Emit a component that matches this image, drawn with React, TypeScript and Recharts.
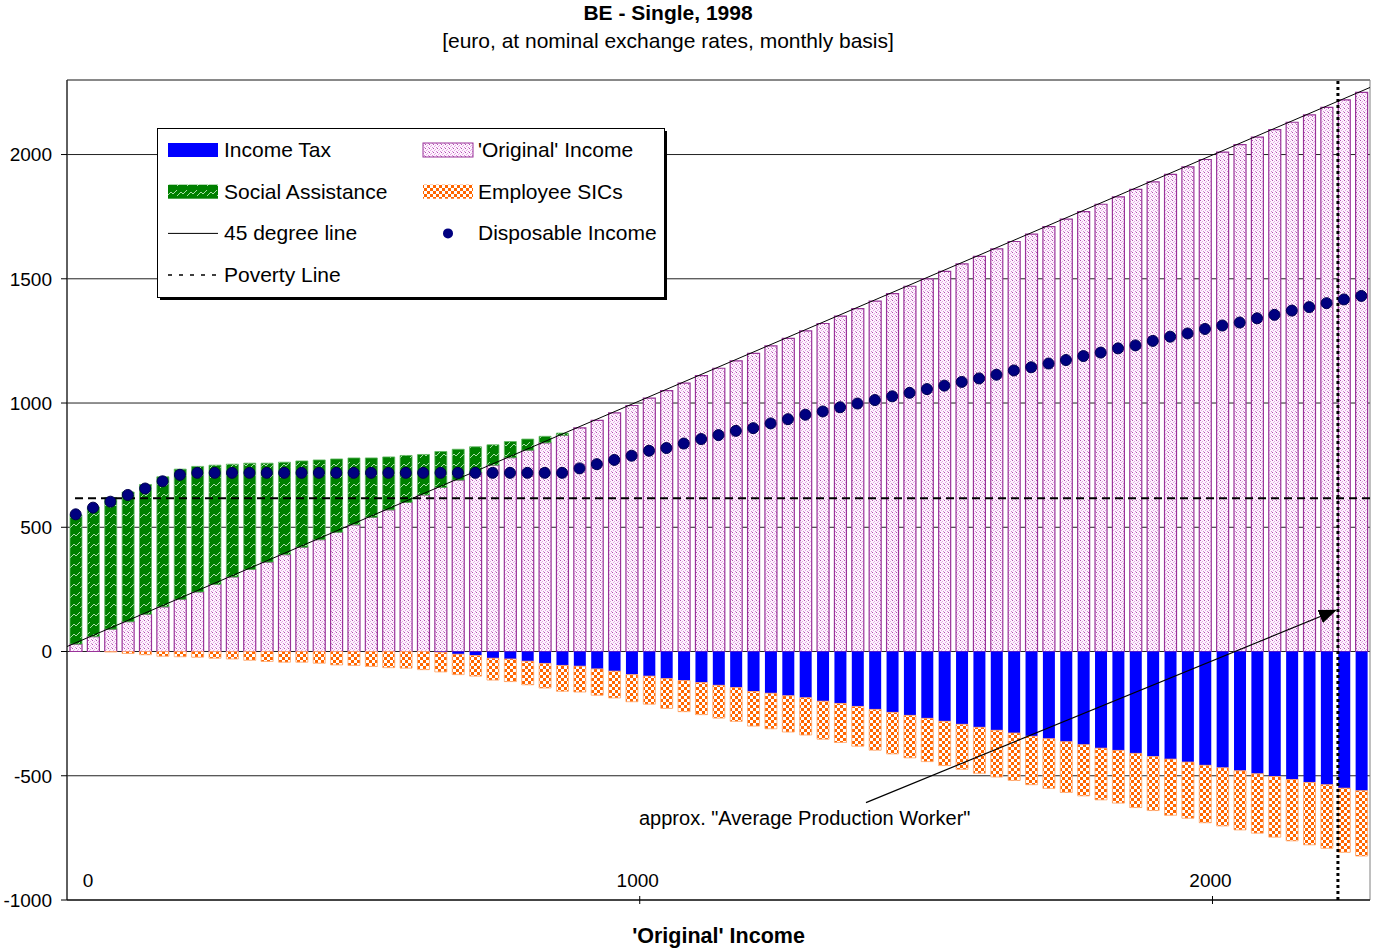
import React from "react";
import {
  ComposedChart,
  Bar,
  Line,
  XAxis,
  YAxis,
  CartesianGrid,
  ReferenceLine,
  ReferenceArea,
  ReferenceDot,
} from "recharts";

// 'Original' income per bar (euro / month)
const originalIncome = [
  30, 60, 90, 120, 150, 180, 210, 240, 270, 300, 330, 360, 390, 420, 450, 480, 510, 540, 570, 600,
  630, 660, 690, 720, 750, 780, 810, 840, 870, 900, 930, 960, 990, 1020, 1050, 1080, 1110, 1140, 1170, 1200,
  1230, 1260, 1290, 1320, 1350, 1380, 1410, 1440, 1470, 1500, 1530, 1560, 1590, 1620, 1650, 1680, 1710, 1740, 1770, 1800,
  1830, 1860, 1890, 1920, 1950, 1980, 2010, 2040, 2070, 2100, 2130, 2160, 2190, 2220, 2250,
];

const socialAssistance = [
  520, 522, 530, 522, 522, 523, 524, 505, 480, 454, 428, 398, 372, 347, 321, 295, 269, 239, 213, 189,
  163, 145, 124, 104, 82, 65, 45, 26, 9, 0, 0, 0, 0, 0, 0, 0, 0, 0, 0, 0,
  0, 0, 0, 0, 0, 0, 0, 0, 0, 0, 0, 0, 0, 0, 0, 0, 0, 0, 0, 0,
  0, 0, 0, 0, 0, 0, 0, 0, 0, 0, 0, 0, 0, 0, 0,
];

const incomeTax = [
  0, 0, 0, 0, 0, 0, 0, 0, 0, 0, 0, 0, 0, 0, 0, 0, 0, 0, 0, 0,
  0, -3, -11, -16, -27, -30, -39, -48, -56, -59, -70, -79, -93, -99, -109, -117, -125, -136, -145, -161,
  -168, -178, -186, -200, -209, -221, -233, -245, -257, -269, -281, -293, -305, -317, -328, -341, -351, -363, -375, -389,
  -398, -410, -423, -433, -445, -458, -468, -480, -492, -503, -515, -527, -536, -550, -560,
];

const employeeSics = [
  0, 0, -2, -8, -13, -19, -21, -23, -27, -30, -35, -40, -43, -43, -47, -54, -56, -60, -65, -67,
  -73, -79, -82, -83, -88, -91, -95, -99, -104, -104, -106, -108, -109, -113, -120, -125, -129, -132, -136, -139,
  -143, -146, -150, -153, -157, -160, -164, -167, -171, -174, -178, -181, -185, -188, -191, -195, -200, -204, -206, -208,
  -212, -218, -217, -226, -226, -231, -234, -238, -239, -244, -247, -251, -256, -258, -263,
];

const disposableIncome = [
  552, 579, 603, 630, 656, 685, 711, 719, 719, 719, 719, 719, 719, 719, 719, 719, 719, 719, 719, 719,
  719, 719, 719, 719, 719, 719, 719, 719, 719, 737, 754, 771, 788, 808, 819, 837, 855, 871, 888, 899,
  918, 935, 953, 966, 983, 998, 1012, 1027, 1041, 1056, 1070, 1085, 1099, 1114, 1131, 1144, 1159, 1173, 1189, 1203,
  1220, 1232, 1250, 1267, 1280, 1298, 1312, 1324, 1341, 1355, 1372, 1386, 1402, 1417, 1431,
];

const yTicks = [-1000, -500, 0, 500, 1000, 1500, 2000];
const xTicks = [0, 1000, 2000];
const xDomain = [0, 2275];
const yDomain = [-1000, 2300];
const povertyLine = 617;
const apwIncome = 2219;
const line45 = [
  { x: 0, y: 20 },
  { x: 2275, y: 2270 },
];
const arrowLine = [
  { x: 1395, y: -608 },
  { x: 2214, y: 165 },
];
const notePoint = { x: 1288, y: -668 };

const legendItems = [
  { label: "Income Tax", kind: "tax", col: 0, row: 0 },
  { label: "'Original' Income", kind: "orig", col: 1, row: 0 },
  { label: "Social Assistance", kind: "sa", col: 0, row: 1 },
  { label: "Employee SICs", kind: "sic", col: 1, row: 1 },
  { label: "45 degree line", kind: "line", col: 0, row: 2 },
  { label: "Disposable Income", kind: "dot", col: 1, row: 2 },
  { label: "Poverty Line", kind: "dash", col: 0, row: 3 },
];

const data = originalIncome.map((inc, i) => ({
  inc,
  orig: inc,
  sa: socialAssistance[i],
  tax: incomeTax[i],
  sic: employeeSics[i],
  dispo: disposableIncome[i],
}));

const FONT = "'Liberation Sans', Arial, sans-serif";

const Patterns = () => (
  <svg width={0} height={0} style={{ position: "absolute" }}>
    <defs>
      <pattern id="origPat" width={4} height={4} patternUnits="userSpaceOnUse">
        <rect width={4} height={4} fill="#fdf3fd" />
        <rect x={0} y={0} width={1} height={1} fill="#b04db0" />
        <rect x={2} y={1} width={1} height={1} fill="#e6a8e6" />
        <rect x={1} y={2} width={1} height={1} fill="#e6a8e6" />
        <rect x={3} y={3} width={1} height={1} fill="#d58bd5" />
      </pattern>
      <pattern id="saPat" width={10} height={10} patternUnits="userSpaceOnUse">
        <rect width={10} height={10} fill="#008000" />
        <path d="M0,8 L4,4 L6,6 L10,2" stroke="#a8dca8" strokeWidth={1} fill="none" />
      </pattern>
      <pattern id="sicPat" width={6} height={6} patternUnits="userSpaceOnUse">
        <rect width={6} height={6} fill="#ff6600" />
        <rect x={0} y={0} width={3} height={3} fill="#ffffff" />
        <rect x={3} y={3} width={3} height={3} fill="#ffffff" />
      </pattern>
      <marker id="arrowHead" markerWidth={18} markerHeight={14} refX={16} refY={7} orient="auto" markerUnits="userSpaceOnUse">
        <path d="M0,0 L18,7 L0,14 Z" fill="#000" />
      </marker>
    </defs>
  </svg>
);

const XTick = (props: any) => {
  const { x, y, payload } = props;
  const v = payload.value;
  return (
    <g>
      {v !== 0 && <line x1={x} y1={y - 4} x2={x} y2={y + 4} stroke="#000" />}
      <text x={v === 0 ? x + 21 : x - 2} y={y - 13} textAnchor="middle" fontSize={19} fill="#000">
        {v}
      </text>
    </g>
  );
};

const ArrowShape = (props: any) => {
  const { x1, y1, x2, y2 } = props;
  return <line x1={x1} y1={y1} x2={x2} y2={y2} stroke="#000" strokeWidth={1.2} markerEnd="url(#arrowHead)" />;
};

const Swatch = ({ kind, x, y }: { kind: string; x: number; y: number }) => {
  if (kind === "tax") return <rect x={x} y={y - 7} width={50} height={14} fill="#0000ff" />;
  if (kind === "orig") return <rect x={x} y={y - 7} width={50} height={14} fill="url(#origPat)" stroke="#993399" />;
  if (kind === "sa") return <rect x={x} y={y - 7} width={50} height={14} fill="url(#saPat)" />;
  if (kind === "sic") return <rect x={x} y={y - 7} width={50} height={14} fill="url(#sicPat)" />;
  if (kind === "line") return <line x1={x} y1={y} x2={x + 50} y2={y} stroke="#000" />;
  if (kind === "dash") return <line x1={x} y1={y} x2={x + 52} y2={y} stroke="#000" strokeWidth={1.5} strokeDasharray="4 7" />;
  return <circle cx={x + 25} cy={y} r={5} fill="#000080" />;
};

const LegendBox = () => (
  <svg width={515} height={176} style={{ position: "absolute", left: 157, top: 128 }}>
    <rect x={3} y={3} width={507} height={169} fill="#000" />
    <rect x={0.5} y={0.5} width={507} height={169} fill="#fff" stroke="#000" />
    {legendItems.map((it) => {
      const cy = 22 + it.row * 41.7;
      const sx = it.col === 0 ? 11 : 266;
      const tx = it.col === 0 ? 67 : 321;
      return (
        <g key={it.label}>
          <Swatch kind={it.kind} x={sx} y={cy} />
          <text x={tx} y={cy + 7} fontSize={21} fill="#000" fontFamily={FONT}>
            {it.label}
          </text>
        </g>
      );
    })}
  </svg>
);

export default function App() {
  return (
    <div style={{ position: "absolute", left: 0, top: 0, width: 1374, height: 948, background: "#fff", fontFamily: FONT }}>
      <Patterns />
      <div style={{ position: "absolute", left: 0, top: 2, width: 1336, textAlign: "center", fontWeight: "bold", fontSize: 21, lineHeight: "22px" }}>
        BE - Single, 1998
      </div>
      <div style={{ position: "absolute", left: 0, top: 30, width: 1336, textAlign: "center", fontSize: 21, lineHeight: "22px" }}>
        [euro, at nominal exchange rates, monthly basis]
      </div>
      <ComposedChart
        width={1374}
        height={948}
        data={data}
        stackOffset="sign"
        barSize={12}
        margin={{ top: 80, right: 4, bottom: 0, left: 0 }}
      >
        <XAxis xAxisId="cat" dataKey="inc" type="category" hide height={0} />
        <XAxis
          xAxisId="num"
          dataKey="inc"
          type="number"
          domain={xDomain}
          ticks={xTicks}
          interval={0}
          allowDataOverflow
          height={48}
          tickSize={0}
          tickMargin={0}
          tickLine={false}
          axisLine={{ stroke: "#000" }}
          tick={<XTick />}
        />
        <YAxis
          domain={yDomain}
          ticks={yTicks}
          interval={0}
          allowDataOverflow
          width={67}
          tickSize={6}
          tickMargin={9}
          tick={{ fontSize: 19, fill: "#000" }}
          tickLine={{ stroke: "#000" }}
          axisLine={{ stroke: "#000" }}
        />
        <CartesianGrid xAxisId="num" vertical={false} stroke="#222" />
        <ReferenceArea xAxisId="num" x1={xDomain[0]} x2={xDomain[1]} y1={yDomain[0]} y2={yDomain[1]} fill="none" stroke="#808080" />
        <Bar xAxisId="cat" dataKey="orig" stackId="a" fill="url(#origPat)" stroke="#993399" strokeWidth={1.2} isAnimationActive={false} />
        <Bar xAxisId="cat" dataKey="sa" stackId="a" fill="url(#saPat)" stroke="#5fb85f" strokeWidth={0.8} isAnimationActive={false} />
        <Bar xAxisId="cat" dataKey="tax" stackId="a" fill="#0000ff" isAnimationActive={false} />
        <Bar xAxisId="cat" dataKey="sic" stackId="a" fill="url(#sicPat)" stroke="#ffa366" strokeWidth={0.8} isAnimationActive={false} />
        <ReferenceLine xAxisId="num" segment={line45} stroke="#000" strokeWidth={1} />
        <ReferenceLine
          xAxisId="num"
          segment={[
            { x: 14, y: povertyLine },
            { x: xDomain[1], y: povertyLine },
          ]}
          stroke="#000"
          strokeWidth={2}
          strokeDasharray="8 5"
        />
        <ReferenceLine xAxisId="num" x={apwIncome} stroke="#000" strokeWidth={3} strokeDasharray="3 3" />
        <ReferenceLine xAxisId="num" segment={arrowLine} shape={<ArrowShape />} />
        <ReferenceDot
          xAxisId="num"
          x={notePoint.x}
          y={notePoint.y}
          r={0}
          fill="none"
          stroke="none"
          label={{ value: 'approx. "Average Production Worker"', position: "center", fontSize: 20, fill: "#000" }}
        />
        <Line
          xAxisId="cat"
          dataKey="dispo"
          stroke="none"
          dot={{ r: 5.5, fill: "#000080", stroke: "#000050", strokeWidth: 1 }}
          activeDot={false}
          isAnimationActive={false}
        />
      </ComposedChart>
      <LegendBox />
      <div style={{ position: "absolute", left: 67, top: 924, width: 1303, textAlign: "center", fontWeight: "bold", fontSize: 21.5, lineHeight: "24px" }}>
        'Original' Income
      </div>
    </div>
  );
}
